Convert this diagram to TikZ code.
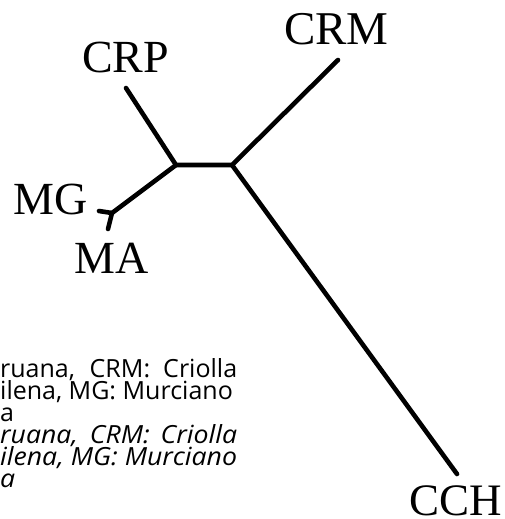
\documentclass[tikz,border=0pt]{standalone}
\usepackage{fontspec}
\setmainfont{Liberation Serif}
\newfontfamily\capfont{Open Sans}
\newcommand{\itline}[1]{\scalebox{1.065}[1]{\itshape #1}}
\begin{document}
\begin{tikzpicture}[x=1pt,y=1pt,
  branch/.style={line width=4.6pt,line cap=round,line join=round},
  taxon/.style={inner sep=0pt,anchor=base west,font=\fontsize{46}{46}\selectfont},
  capline/.style={inner sep=0pt,anchor=base west,font=\capfont\fontsize{25}{22}\selectfont}]
\useasboundingbox (0,0) rectangle (505,-519);
% tree points
\coordinate (j1) at (176,-165);
\coordinate (j2) at (232,-165);
\coordinate (j3) at (112,-213);
\coordinate (crp) at (126,-88);
\coordinate (crm) at (338,-60);
\coordinate (cch) at (457,-474);
\coordinate (mg) at (99,-211);
\coordinate (ma) at (108,-229);
\draw[branch] (crp) -- (j1) -- (j2) -- (crm);
\draw[branch] (j2) -- (cch);
\draw[branch] (j1) -- (j3);
\draw[branch] (mg) -- (j3) -- (ma);
% labels
\node[taxon] (lcrp) at (82,-73) {CRP};
\node[taxon,font=\fontsize{47}{47}\selectfont] (lcrm) at (284,-45) {CRM};
\node[taxon] (lmg) at (13,-214) {MG};
\node[taxon] (lma) at (74,-273) {MA};
\node[taxon,font=\fontsize{45}{45}\selectfont] (lcch) at (409,-515) {CCH};
% caption fragments
\node[capline] (c1) at (0,-377) {\makebox[237pt][s]{ruana, CRM: Criolla}};
\node[capline] (c2) at (0,-399) {ilena, MG: Murciano};
\node[capline] (c3) at (0,-421) {a};
\node[capline] (c4) at (0,-443) {\itline{\makebox[222.5pt][s]{ruana, CRM: Criolla}}};
\node[capline] (c5) at (0,-465) {\itline{ilena, MG: Murciano}};
\node[capline] (c6) at (0,-487) {\itline{a}};
\end{tikzpicture}
\end{document}
